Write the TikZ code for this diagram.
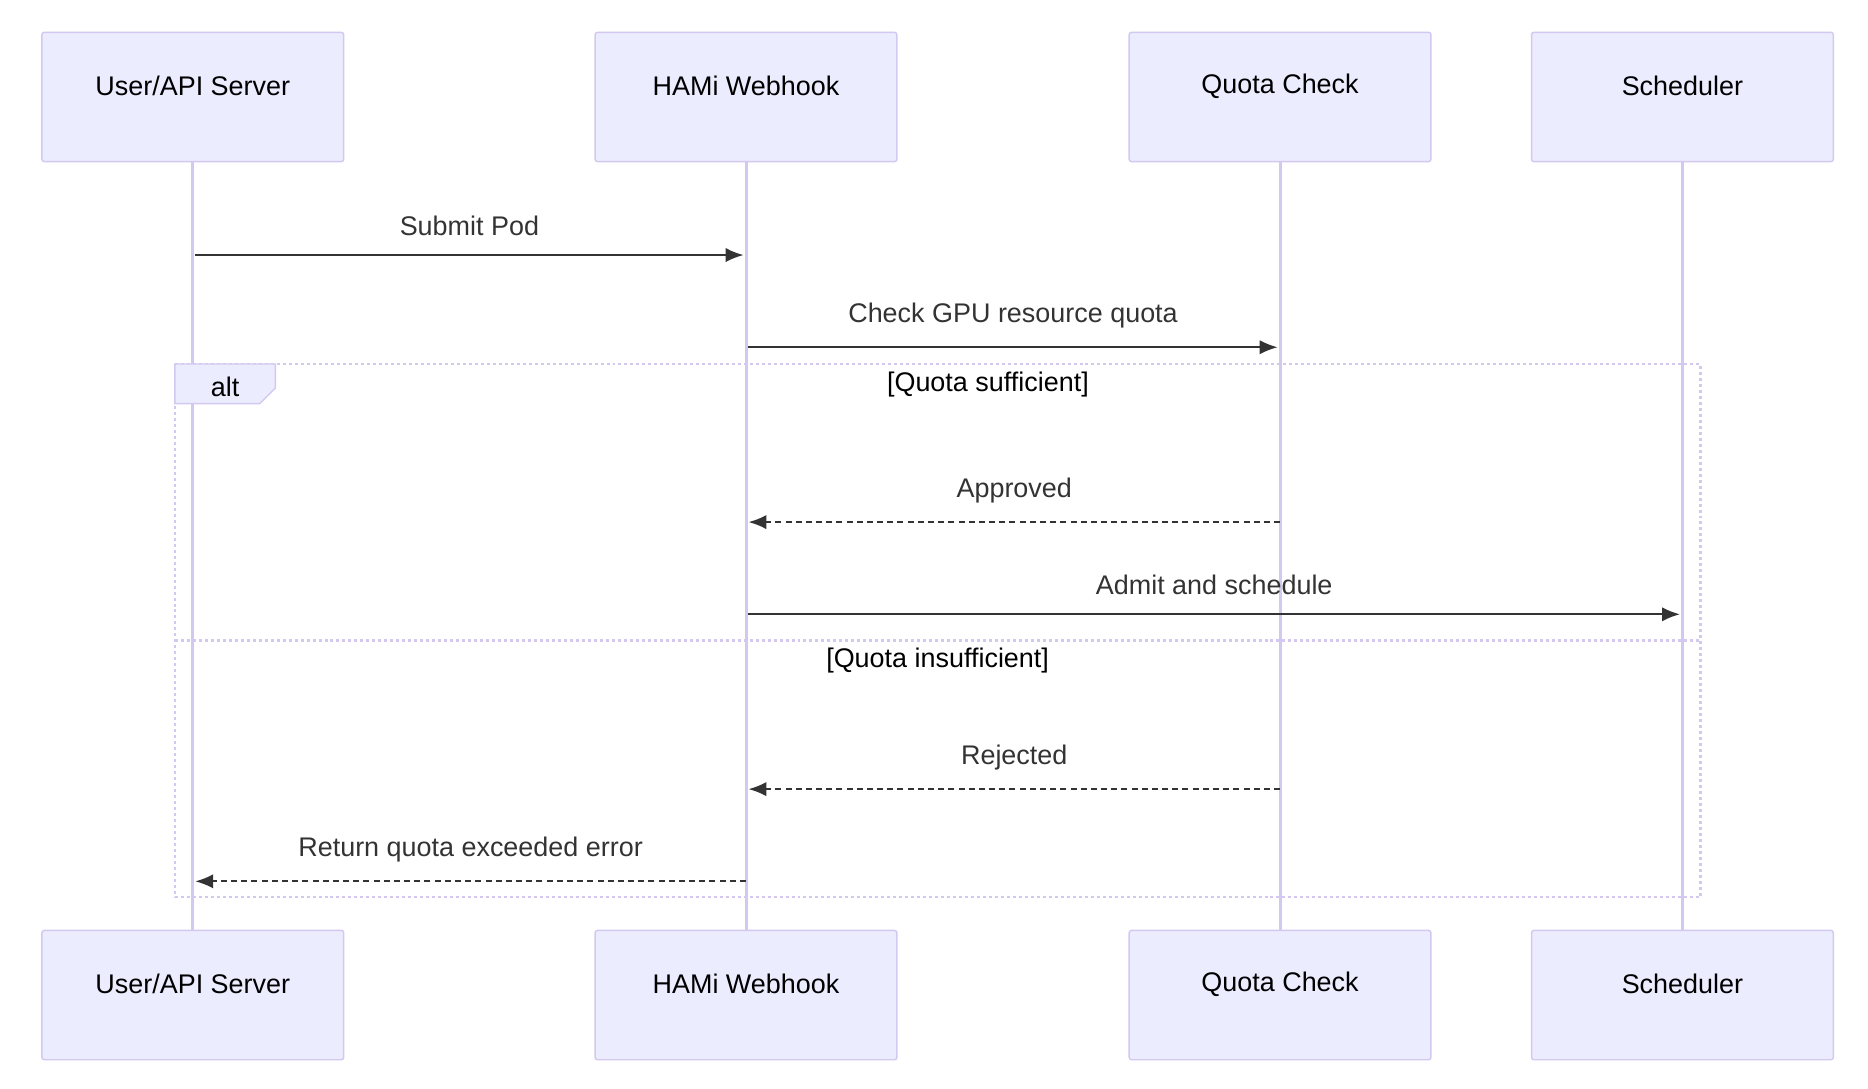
\documentclass[tikz,border=0pt]{standalone}
\usepackage{fontspec}
\setmainfont{Liberation Sans}
\usetikzlibrary{arrows.meta}
\definecolor{actfill}{HTML}{ECECFF}
\definecolor{actline}{HTML}{D3C8F0}
\definecolor{msgcol}{HTML}{333333}
\begin{document}
\begin{tikzpicture}[x=1pt,y=-1pt,
  actor/.style={draw=actline,fill=actfill,rounded corners=2pt,line width=1.2pt,minimum width=252pt,minimum height=108pt},
  atext/.style={font=\fontsize{22.5}{26}\selectfont},
  life/.style={draw=actline,line width=2.5pt},
  msg/.style={draw=msgcol,line width=1.8pt,-{Latex[length=15pt,width=12pt]}},
  reply/.style={msg,dash pattern=on 5pt off 3.5pt},
  lbl/.style={font=\fontsize{22.5}{26}\selectfont,text=msgcol},
  frame/.style={draw=actline,line width=2.2pt,dash pattern=on 2.5pt off 2.5pt}]
  \useasboundingbox (0,0) rectangle (1560,909);

  % lifelines
  \foreach \x in {161,623,1069,1405}
    \draw[life] (\x,135) -- (\x,777);

  \foreach \n/\x/\t in {u/161/User\slash API Server,h/623/HAMi Webhook,q/1069/Quota Check,s/1405/Scheduler}{
    \node[actor] (\n) at (\x,81) {};
    \node[atext] (\n t) at (\x,72) {\t};
    \node[actor] (\n b) at (\x,831) {};
    \node[atext] (\n bt) at (\x,822) {\t};
  }

  % alt frame
  \draw[frame] (146,304) rectangle (1420,749);
  \draw[frame] (146,535) -- (1420,535);
  \path[fill=actfill,draw=actline,line width=1.2pt] (146,304) -- (230,304) -- (230,324) -- (217,337) -- (146,337) -- cycle;
  \node[atext] (alt) at (188,323) {alt};
  \node[atext] (g1) at (825,321) {[Quota sufficient]};
  \node[atext] (g2) at (783,552) {[Quota insufficient]};

  \coordinate (u1) at (163,213); \coordinate (h1) at (621,213);
  \coordinate (h2) at (625,290); \coordinate (q2) at (1067,290);
  \coordinate (q3) at (1069,436); \coordinate (h3) at (625,436);
  \coordinate (h4) at (625,513); \coordinate (s4) at (1403,513);
  \coordinate (q5) at (1069,659); \coordinate (h5) at (625,659);
  \coordinate (h6) at (623,736); \coordinate (u6) at (163,736);

  \draw[msg] (u1) -- node[lbl,above=12pt] {Submit Pod} (h1);
  \draw[msg] (h2) -- node[lbl,above=12pt] {Check GPU resource quota} (q2);
  \draw[reply] (q3) -- node[lbl,above=12pt] {Approved} (h3);
  \draw[msg] (h4) -- node[lbl,above=12pt] {Admit and schedule} (s4);
  \draw[reply] (q5) -- node[lbl,above=12pt] {Rejected} (h5);
  \draw[reply] (h6) -- node[lbl,above=12pt] {Return quota exceeded error} (u6);
\end{tikzpicture}
\end{document}
